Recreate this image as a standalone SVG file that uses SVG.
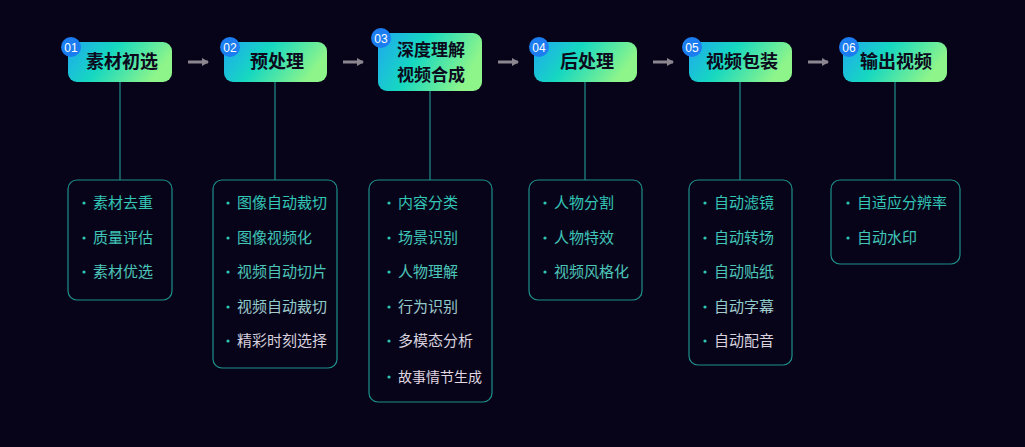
<svg xmlns="http://www.w3.org/2000/svg" width="1025" height="447" viewBox="0 0 1025 447">
<defs>
<linearGradient id="hg" x1="0" y1="0" x2="1" y2="0.3"><stop offset="0" stop-color="#1fa8f0"/><stop offset="0.45" stop-color="#16d8c0"/><stop offset="1" stop-color="#8ef58a"/></linearGradient>
<linearGradient id="tg" gradientUnits="userSpaceOnUse" x1="0" y1="190" x2="0" y2="390"><stop offset="0" stop-color="#2ec7b5"/><stop offset="0.45" stop-color="#4fc7b8"/><stop offset="0.7" stop-color="#d8d0dc"/><stop offset="1" stop-color="#e8d8e6"/></linearGradient>
<marker id="ar" markerWidth="8" markerHeight="8" refX="6" refY="4" orient="auto" markerUnits="userSpaceOnUse"><path d="M0,0 L7,4 L0,8 Z" fill="#8c8690"/></marker>
</defs>
<style>
.h{fill:url(#hg)}
.ht{font-family:"Noto Sans CJK SC",sans-serif;font-size:18px;font-weight:bold;fill:#0c0a1c;text-anchor:middle}
.b{fill:#1b7df0}
.bt{font-family:"Liberation Sans",sans-serif;font-size:12px;fill:#fff;text-anchor:middle}
.box{fill:none;stroke:#1f8f8a;stroke-width:1.2}
.it{font-family:"Noto Sans CJK SC",sans-serif;font-size:15px;fill:url(#tg)}
.d{fill:#2ec7b5}
.v{stroke:#1f8f8a;stroke-width:1.2}
.a{stroke:#8c8690;stroke-width:3;marker-end:url(#ar)}
</style>
<rect width="1025" height="447" fill="#07041a"/>
<g id="connectors">
<line class="v" x1="120" y1="82" x2="120" y2="180"/>
<line class="v" x1="275" y1="82" x2="275" y2="180"/>
<line class="v" x1="430" y1="91" x2="430" y2="180"/>
<line class="v" x1="585" y1="82" x2="585" y2="180"/>
<line class="v" x1="740" y1="82" x2="740" y2="180"/>
<line class="v" x1="895" y1="82" x2="895" y2="180"/>
<line class="a" x1="188" y1="62" x2="208" y2="62"/>
<line class="a" x1="343" y1="62" x2="363" y2="62"/>
<line class="a" x1="498" y1="62" x2="518" y2="62"/>
<line class="a" x1="653" y1="62" x2="673" y2="62"/>
<line class="a" x1="808" y1="62" x2="828" y2="62"/>
</g>
<g id="n1"><rect class="h" x="68" y="42" width="104" height="40" rx="9"/><text class="ht" x="122" y="68">素材初选</text><circle class="b" cx="71" cy="47" r="10"/><text class="bt" x="71" y="51.5">01</text></g>
<g id="n2"><rect class="h" x="224" y="42" width="103" height="40" rx="9"/><text class="ht" x="277" y="68">预处理</text><circle class="b" cx="230" cy="47" r="10"/><text class="bt" x="230" y="51.5">02</text></g>
<g id="n3"><rect class="h" x="378" y="33" width="104" height="58" rx="9"/><text class="ht" x="431" y="56" style="font-size:17px">深度理解</text><text class="ht" x="431" y="81" style="font-size:17px">视频合成</text><circle class="b" cx="381" cy="38" r="10"/><text class="bt" x="381" y="42.5">03</text></g>
<g id="n4"><rect class="h" x="534" y="42" width="103" height="40" rx="9"/><text class="ht" x="587" y="68">后处理</text><circle class="b" cx="539" cy="47" r="10"/><text class="bt" x="539" y="51.5">04</text></g>
<g id="n5"><rect class="h" x="689" y="42" width="103" height="40" rx="9"/><text class="ht" x="742" y="68">视频包装</text><circle class="b" cx="692" cy="47" r="10"/><text class="bt" x="692" y="51.5">05</text></g>
<g id="n6"><rect class="h" x="843" y="42" width="104" height="40" rx="9"/><text class="ht" x="896" y="68">输出视频</text><circle class="b" cx="849" cy="47" r="10"/><text class="bt" x="849" y="51.5">06</text></g>
<g id="l1"><rect class="box" x="68" y="180" width="104" height="120" rx="9"/>
<circle class="d" cx="84" cy="203" r="1.6"/><text class="it" x="93" y="208">素材去重</text>
<circle class="d" cx="84" cy="238" r="1.6"/><text class="it" x="93" y="243">质量评估</text>
<circle class="d" cx="84" cy="272" r="1.6"/><text class="it" x="93" y="277">素材优选</text></g>
<g id="l2"><rect class="box" x="213" y="180" width="124" height="188" rx="9"/>
<circle class="d" cx="228" cy="203" r="1.6"/><text class="it" x="237" y="208">图像自动裁切</text>
<circle class="d" cx="228" cy="238" r="1.6"/><text class="it" x="237" y="243">图像视频化</text>
<circle class="d" cx="228" cy="272" r="1.6"/><text class="it" x="237" y="277">视频自动切片</text>
<circle class="d" cx="228" cy="307" r="1.6"/><text class="it" x="237" y="312">视频自动裁切</text>
<circle class="d" cx="228" cy="341" r="1.6"/><text class="it" x="237" y="346">精彩时刻选择</text></g>
<g id="l3"><rect class="box" x="369" y="180" width="123" height="222" rx="9"/>
<circle class="d" cx="389" cy="203" r="1.6"/><text class="it" x="398" y="208">内容分类</text>
<circle class="d" cx="389" cy="238" r="1.6"/><text class="it" x="398" y="243">场景识别</text>
<circle class="d" cx="389" cy="272" r="1.6"/><text class="it" x="398" y="277">人物理解</text>
<circle class="d" cx="389" cy="307" r="1.6"/><text class="it" x="398" y="312">行为识别</text>
<circle class="d" cx="389" cy="341" r="1.6"/><text class="it" x="398" y="346">多模态分析</text>
<circle class="d" cx="389" cy="377" r="1.6"/><text class="it" x="398" y="382" style="font-size:14px">故事情节生成</text></g>
<g id="l4"><rect class="box" x="529" y="180" width="113" height="120" rx="9"/>
<circle class="d" cx="545" cy="203" r="1.6"/><text class="it" x="554" y="208">人物分割</text>
<circle class="d" cx="545" cy="238" r="1.6"/><text class="it" x="554" y="243">人物特效</text>
<circle class="d" cx="545" cy="272" r="1.6"/><text class="it" x="554" y="277">视频风格化</text></g>
<g id="l5"><rect class="box" x="689" y="180" width="103" height="185" rx="9"/>
<circle class="d" cx="705" cy="203" r="1.6"/><text class="it" x="714" y="208">自动滤镜</text>
<circle class="d" cx="705" cy="238" r="1.6"/><text class="it" x="714" y="243">自动转场</text>
<circle class="d" cx="705" cy="272" r="1.6"/><text class="it" x="714" y="277">自动贴纸</text>
<circle class="d" cx="705" cy="307" r="1.6"/><text class="it" x="714" y="312">自动字幕</text>
<circle class="d" cx="705" cy="341" r="1.6"/><text class="it" x="714" y="346">自动配音</text></g>
<g id="l6"><rect class="box" x="831" y="180" width="129" height="84" rx="9"/>
<circle class="d" cx="848" cy="203" r="1.6"/><text class="it" x="857" y="208">自适应分辨率</text>
<circle class="d" cx="848" cy="238" r="1.6"/><text class="it" x="857" y="243">自动水印</text></g>
</svg>
